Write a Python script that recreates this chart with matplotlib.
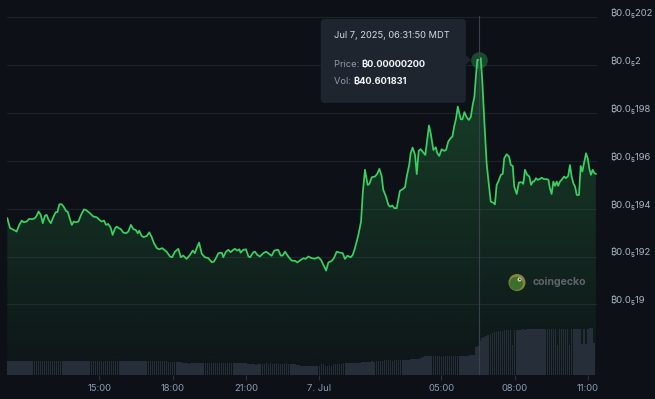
import numpy as np
import matplotlib
matplotlib.use("Agg")
import matplotlib.pyplot as plt
import matplotlib.colors as mcolors
import matplotlib.transforms as mtransforms
from matplotlib.patches import FancyBboxPatch, Circle, Polygon

plt.rcParams['font.family'] = ['Inter', 'Noto Sans', 'DejaVu Sans']

# ---------------- data ----------------
# time in hours since Jul 6 2025 00:00 (MDT); price in satoshi (1e-8 BTC)
hours = [
    11.23, 11.34, 11.55, 11.61, 11.72, 11.82, 11.91, 12.02, 12.12, 12.25,
    12.36, 12.43, 12.51, 12.60, 12.68, 12.77, 12.84, 12.92, 13.01, 13.11,
    13.21, 13.28, 13.36, 13.46, 13.55, 13.63, 13.70, 13.77, 13.87, 13.95,
    14.03, 14.14, 14.25, 14.37, 14.48, 14.61, 14.75, 14.89, 15.00, 15.09,
    15.19, 15.27, 15.36, 15.46, 15.54, 15.64, 15.71, 15.79, 15.87, 15.98,
    16.09, 16.18, 16.29, 16.39, 16.49, 16.57, 16.63, 16.73, 16.81, 16.94,
    17.04, 17.14, 17.23, 17.35, 17.45, 17.57, 17.75, 17.89, 17.98, 18.09,
    18.23, 18.33, 18.43, 18.57, 18.71, 18.82, 18.91, 18.98, 19.08, 19.19,
    19.32, 19.46, 19.60, 19.69, 19.77, 19.87, 20.01, 20.07, 20.18, 20.28,
    20.37, 20.48, 20.55, 20.64, 20.73, 20.78, 20.89, 21.00, 21.10, 21.17,
    21.30, 21.37, 21.46, 21.57, 21.71, 21.82, 21.91, 22.05, 22.16, 22.32,
    22.42, 22.50, 22.60, 22.73, 22.87, 23.01, 23.10, 23.24, 23.35, 23.44,
    23.55, 23.69, 23.82, 23.96, 24.07, 24.17, 24.28, 24.37, 24.51, 24.60,
    24.71, 24.85, 24.96, 25.05, 25.15, 25.29, 25.37, 25.46, 25.60, 25.71,
    25.78, 25.87, 25.98, 26.05, 26.15, 26.28, 26.37, 26.46, 26.55, 26.62,
    26.72, 26.83, 26.90, 26.99, 27.07, 27.17, 27.23, 27.30, 27.41, 27.51,
    27.58, 27.68, 27.74, 27.82, 27.92, 27.99, 28.07, 28.15, 28.26, 28.34,
    28.40, 28.49, 28.56, 28.67, 28.77, 28.83, 28.91, 29.01, 29.11, 29.19,
    29.28, 29.39, 29.45, 29.52, 29.60, 29.67, 29.73, 29.79, 29.86, 29.94,
    30.03, 30.12, 30.20, 30.28, 30.35, 30.42, 30.47, 30.55, 30.61, 30.67,
    30.76, 30.85, 30.92, 31.02, 31.12, 31.19, 31.26, 31.33, 31.43, 31.51,
    31.57, 31.67, 31.77, 31.84, 31.92, 31.98, 32.08, 32.17, 32.29, 32.35,
    32.42, 32.51, 32.60, 32.67, 32.74, 32.79, 32.87, 32.94, 33.03, 33.10,
    33.20, 33.31, 33.38, 33.44, 33.51, 33.58, 33.65, 33.72, 33.78, 33.85,
    33.92, 34.02, 34.10, 34.19, 34.26, 34.33, 34.40, 34.47, 34.54, 34.63,
    34.70, 34.77, 34.84, 34.92, 34.99, 35.05, 35.12, 35.19, 35.26, 35.32,
]
price_sats = [
    193.60, 193.19, 193.08, 193.04, 193.32, 193.50, 193.43, 193.46, 193.57, 193.56,
    193.60, 193.70, 193.88, 193.74, 193.39, 193.70, 193.74, 193.53, 193.39, 193.64,
    193.85, 193.85, 194.18, 194.18, 194.06, 193.90, 193.88, 193.64, 193.32, 193.46,
    193.43, 193.46, 193.74, 193.97, 193.92, 193.81, 193.67, 193.64, 193.53, 193.46,
    193.50, 193.32, 193.36, 193.21, 192.90, 193.18, 193.25, 193.18, 193.15, 193.00,
    192.97, 193.04, 193.32, 193.14, 193.11, 192.97, 193.08, 192.86, 192.81, 192.86,
    193.01, 192.81, 192.56, 192.35, 192.30, 192.35, 192.20, 192.00, 191.97, 192.20,
    192.32, 191.97, 192.04, 191.90, 192.07, 192.25, 192.14, 192.35, 192.58, 192.11,
    191.97, 191.93, 191.76, 191.79, 191.93, 192.14, 192.16, 191.97, 192.20, 192.28,
    192.18, 192.28, 192.32, 192.25, 192.30, 192.16, 192.28, 192.30, 192.00, 191.97,
    192.18, 192.20, 192.07, 192.00, 192.14, 192.20, 192.14, 192.03, 192.25, 192.28,
    192.04, 192.04, 192.20, 192.00, 191.83, 191.82, 191.75, 191.86, 191.93, 191.90,
    192.00, 191.93, 191.91, 191.97, 191.86, 191.65, 191.41, 191.75, 191.82, 191.93,
    192.20, 192.16, 192.14, 191.90, 192.03, 191.97, 192.07, 192.35, 192.90, 193.46,
    194.64, 195.62, 194.99, 195.03, 195.31, 195.34, 195.45, 195.66, 195.37, 194.78,
    194.53, 194.15, 194.08, 194.13, 194.02, 194.02, 194.36, 194.74, 194.81, 194.89,
    195.34, 195.82, 196.31, 196.55, 196.24, 195.44, 196.42, 196.48, 196.34, 196.24,
    196.73, 197.47, 197.15, 196.45, 196.56, 196.31, 196.20, 196.48, 196.41, 196.45,
    196.80, 196.96, 197.01, 197.42, 197.77, 198.26, 197.98, 197.73, 197.73, 198.03,
    197.82, 197.70, 197.82, 198.33, 198.68, 199.65, 200.21, 200.21, 200.28, 199.37,
    197.57, 195.90, 195.20, 194.29, 194.25, 194.18, 194.99, 195.13, 195.41, 195.45,
    196.10, 196.27, 196.17, 195.82, 195.78, 194.92, 194.61, 195.09, 195.10, 195.03,
    195.62, 195.41, 195.34, 194.99, 195.13, 195.13, 195.27, 195.20, 195.24, 195.29,
    195.23, 195.23, 195.20, 194.85, 194.61, 195.13, 194.95, 195.13, 194.95, 195.13,
    195.20, 195.34, 195.27, 195.37, 195.82, 195.34, 195.06, 194.92, 194.57, 194.57,
    195.78, 195.55, 195.92, 196.31, 196.10, 195.69, 195.41, 195.62, 195.48, 195.45,
]

# 24h volume (BTC), one bar every 5 minutes starting Jul 6 11:15
vol_start_hour = 11.25
vol_step_hours = 5 / 60
volume_btc = [
    20.2, 20.3, 20.2, 20.2, 20.3, 20.1, 20.2, 20.2, 20.1,                    # 11:15
    20.1, 20.2, 20.0, 20.1, 20.1, 20.0, 19.9, 20.0, 20.1, 20.0, 19.9, 20.0,  # 12
    19.6, 19.9, 20.0, 20.0, 19.9, 19.9, 20.0, 19.8, 19.8, 19.9, 19.9, 19.9,  # 13
    19.8, 19.9, 19.9, 19.8, 19.6, 19.8, 19.8, 19.9, 19.9, 19.8, 19.8, 19.7,  # 14
    19.7, 19.6, 18.3, 19.7, 19.8, 19.9, 19.9, 19.9, 20.0, 19.9, 19.9, 19.9,  # 15
    19.9, 19.9, 19.9, 20.0, 19.9, 19.8, 19.9, 19.8, 19.8, 19.9, 19.8, 19.8,  # 16
    19.7, 19.8, 19.6, 19.7, 19.6, 19.5, 19.6, 19.5, 19.4, 19.4, 19.3, 19.3,  # 17
    19.2, 19.0, 18.8, 18.4, 18.0, 17.6, 17.5, 17.4, 16.0, 17.3, 17.2, 17.2,  # 18
    17.1, 17.0, 16.6, 17.0, 16.8, 16.9, 17.0, 16.9, 16.8, 16.9, 16.9, 16.8,  # 19
    17.0, 17.2, 17.1, 16.9, 17.1, 17.2, 16.8, 17.0, 17.1, 17.1, 17.2, 17.0,  # 20
    16.8, 16.2, 15.6, 15.9, 15.6, 14.8, 15.5, 16.5, 16.4, 16.0, 16.6, 16.5,  # 21
    16.6, 16.4, 16.5, 16.6, 16.3, 16.5, 16.2, 16.5, 16.6, 16.4, 16.5, 16.3,  # 22
    16.0, 15.0, 14.0, 13.6, 13.5, 13.6, 13.4, 13.5, 13.6, 13.4, 13.5, 13.3,  # 23
    13.5, 15.8, 15.6, 13.6, 13.5, 14.2, 13.6, 15.5, 15.8, 15.9, 16.2, 16.0,  # 00
    17.0, 17.2, 17.0, 17.3, 17.2, 17.5, 17.6, 17.8, 17.9, 18.1, 18.3, 18.5,  # 01
    18.8, 19.1, 19.4, 19.2, 19.8, 20.2, 20.4, 19.4, 20.8, 21.0, 21.3, 21.2,  # 02
    19.4, 21.4, 21.6, 21.8, 21.9, 22.0, 22.0, 22.0, 22.1, 22.2, 22.5, 22.8,  # 03
    23.0, 23.5, 24.5, 25.5, 26.5, 27.0, 27.3, 27.5, 27.6, 27.6, 27.5, 27.5,  # 04
    26.0, 27.3, 27.2, 27.2, 27.3, 27.2, 27.2, 27.3, 27.3, 27.4, 27.4, 27.5,  # 05
    27.5, 27.6, 27.8, 28.0, 28.2, 39.2, 40.6, 48.0, 51.8, 54.0, 55.5, 57.0,  # 06
    57.8, 59.0, 60.0, 61.0, 61.5, 62.0, 62.5, 62.8, 63.0, 63.2, 63.5, 42.0,  # 07
    64.0, 64.0, 64.1, 64.0, 64.2, 64.1, 64.2, 64.3, 64.2, 64.3, 64.3, 64.4,  # 08
    64.4, 64.5, 64.2, 64.5, 64.6, 64.5, 64.6, 64.5, 64.6, 43.0, 64.6, 64.7,  # 09
    64.8, 64.8, 64.9, 43.0, 64.9, 65.0, 65.1, 65.0, 65.2, 43.5, 65.2, 43.8,  # 10
    65.5, 65.6, 65.6, 44.8,                                                  # 11
]

tick_hours = [15, 18, 21, 24, 29, 32, 35]
tick_labels = ["15:00", "18:00", "21:00", "7. Jul", "05:00", "08:00", "11:00"]
price_ticks_sats = [190, 192, 194, 196, 198, 200, 202]

hover_hour = 24 + 6 + 31 / 60 + 50 / 3600
hover_price_sats = 200.21
hover_volume_btc = 40.601831
hover_label = "Jul 7, 2025, 06:31:50 MDT"

# ---------------- style ----------------
BG = '#0d1117'
GRID = '#1d222a'
GREEN = '#3bd160'
BAR = '#252e39'
W, H = 655, 399
L, R, B, T = 7, 597, 375.3, 0

def fmt_price(sats):
    s = f"{sats * 1e-8:.8f}".rstrip('0')
    frac = s.split('.')[1]
    nz = len(frac) - len(frac.lstrip('0'))
    return "₿0.0" + chr(0x2080 + nz) + frac.lstrip('0')

fig = plt.figure(figsize=(W / 100, H / 100), dpi=100, facecolor=BG)
rect = [L / W, 1 - B / H, (R - L) / W, (B - T) / H]
ax = fig.add_axes(rect)
ax.set_facecolor(BG)
axv = fig.add_axes(rect)
axv.patch.set_alpha(0)

xlo, xhi = 11.2175, 35.368
ylo, yhi = 187.04, 202.71
ax.set_xlim(xlo, xhi)
ax.set_ylim(ylo, yhi)
axv.set_xlim(xlo, xhi)
axv.set_ylim(0, 525.6)

x = np.array(hours)
y = np.array(price_sats)

# grid
for t in price_ticks_sats:
    ax.axhline(t, color=GRID, lw=0.8, zorder=0.5)
ax.set_yticks([])
for sp in ax.spines.values():
    sp.set_visible(False)
for sp in axv.spines.values():
    sp.set_visible(False)

# gradient area
verts = np.column_stack([np.r_[x[0], x, x[-1]], np.r_[ylo, y, ylo]])
clip = Polygon(verts, closed=True, transform=ax.transData, fc='none', ec='none')
ax.add_patch(clip)
grad = np.zeros((256, 1, 4))
grad[:, 0, :3] = mcolors.to_rgb(GREEN)
grad[:, 0, 3] = np.linspace(0.02, 0.26, 256)
im = ax.imshow(grad, extent=[x[0], x[-1], ylo, y.max()], origin='lower',
               aspect='auto', zorder=1, interpolation='bilinear')
im.set_clip_path(clip)
ax.set_xlim(xlo, xhi)
ax.set_ylim(ylo, yhi)

ax.plot(x, y, color=GREEN, lw=1.25, zorder=3, solid_joinstyle='round')

# volume bars
vt = vol_start_hour + vol_step_hours * np.arange(len(volume_btc))
axv.bar(vt, volume_btc, width=0.062, color=BAR, linewidth=0, zorder=1)
axv.set_yticks([])

# x ticks
ax.set_xticks(tick_hours)
ax.set_xticklabels(tick_labels)
ax.tick_params(axis='x', length=3.8, width=0.8, color='#2a313b',
               labelcolor='#8b9bb5', labelsize=6.8, pad=2.2)
axv.set_xticks([])

# right price labels
off = mtransforms.ScaledTranslation(0, 4 / 100, fig.dpi_scale_trans)
for t in price_ticks_sats:
    ax.text((610 - L) / (R - L), t, fmt_price(t), transform=ax.get_yaxis_transform() + off,
            ha='left', va='center', fontsize=6.8, color='#aab4c4', clip_on=False)

# crosshair + hover marker
axv.axvline(hover_hour, ymin=0, ymax=(B - 16) / B, color='#3a414c', lw=0.8, zorder=5)
ax.plot([hover_hour], [hover_price_sats], 'o', ms=12, color=GREEN, alpha=0.3,
        mec='none', zorder=4)

# overlay (pixel coordinates) for tooltip and watermark
ov = fig.add_axes([0, 0, 1, 1])
ov.set_xlim(0, W)
ov.set_ylim(H, 0)
ov.axis('off')
ov.patch.set_alpha(0)

px, py = ax.transData.transform((hover_hour, hover_price_sats))
py = H - py
bw, bh = 145, 84
bx1 = px - 13
bx0 = bx1 - bw
by0 = py - 41
box = FancyBboxPatch((bx0, by0), bw, bh, boxstyle='round,pad=0,rounding_size=4',
                     fc='#1e252f', ec='none', zorder=10)
ov.add_patch(box)
ov.add_patch(Polygon([(bx1 - 0.5, py - 5), (bx1 + 5, py), (bx1 - 0.5, py + 5)],
                     closed=True, fc='#1e252f', ec='none', zorder=10))
ov.text(bx0 + 13, by0 + 17, hover_label, fontsize=6.7, color='#d3d9e2',
        ha='left', va='center', zorder=11)
tp = ov.text(bx0 + 13, by0 + 46, "Price: ", fontsize=6.7, color='#8f9aab',
             ha='left', va='center', zorder=11)
ov.annotate(f"₿{hover_price_sats * 1e-8:.8f}", xy=(1, 0), xycoords=tp,
            fontsize=6.7, color='#f2f4f7', fontweight='bold', ha='left', va='bottom', zorder=11)
tv = ov.text(bx0 + 13, by0 + 63, "Vol: ", fontsize=6.7, color='#8f9aab',
             ha='left', va='center', zorder=11)
ov.annotate(f"₿{hover_volume_btc:.6f}", xy=(1, 0), xycoords=tv,
            fontsize=6.7, color='#f2f4f7', fontweight='bold', ha='left', va='bottom', zorder=11)

# watermark
ov.add_patch(Circle((517, 282.5), 8.5, fc='#86843c', ec='none', zorder=2))
ov.add_patch(Circle((516.2, 283.5), 6.6, fc='#3c6f2c', ec='none', zorder=2))
ov.add_patch(Circle((519.5, 279.5), 2.0, fc='#d8d8c8', ec='none', zorder=2))
ov.add_patch(Circle((519.8, 279.3), 0.9, fc='#2b3a22', ec='none', zorder=2))
ov.text(532.5, 282, "coingecko", fontsize=7.6, fontweight='bold', color='#5f636b',
        ha='left', va='center', zorder=2)

fig.savefig('out.png', dpi=100, facecolor=BG)
